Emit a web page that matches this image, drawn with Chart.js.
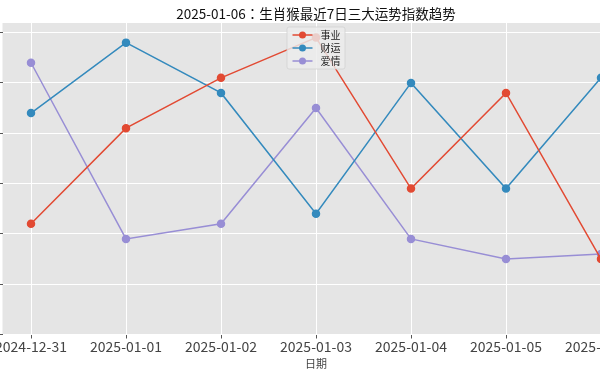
<!DOCTYPE html>
<html>
<head>
<meta charset="utf-8">
<script src="https://cdn.jsdelivr.net/npm/chart.js@4.4.1/dist/chart.umd.min.js"></script>
<style>
    body { margin: 0; overflow: hidden; background: #fff; width: 600px; height: 375px; position: relative; }
    #wrap { position: absolute; left: -40px; top: 0; width: 720px; height: 375px; }
</style>
</head>
<body>
<div id="wrap"><canvas id="trend_chart"></canvas></div>
<script>
// chart data
const dates = ['2024-12-31', '2025-01-01', '2025-01-02', '2025-01-03', '2025-01-04', '2025-01-05', '2025-01-06'];
const career = [62, 81, 91, 99, 69, 88, 55];   // 事业
const wealth = [84, 98, 88, 64, 90, 69, 91];   // 财运
const love = [94, 59, 62, 85, 59, 55, 56];     // 爱情
const yTicks = [40, 50, 60, 70, 80, 90, 100];

const FONT = "'Noto Sans CJK JP', 'Noto Sans CJK SC', sans-serif";

function toPoints(arr) {
    return arr.map((v, i) => ({ x: i, y: v }));
}

function makeSet(label, arr, color) {
    return {
        label: label,
        data: toPoints(arr),
        borderColor: color,
        backgroundColor: color,
        borderWidth: 1.5,
        pointRadius: 3.5,
        pointHoverRadius: 3.5,
        tension: 0
    };
}

// grey panel behind the plot
const panelBg = {
    id: 'panelBg',
    beforeDraw(chart) {
        const a = chart.chartArea;
        const ctx = chart.ctx;
        ctx.save();
        ctx.fillStyle = '#fff';
        ctx.fillRect(0, 0, chart.width, chart.height);
        ctx.fillStyle = '#E5E5E5';
        ctx.fillRect(a.left, a.top, a.right - a.left, a.bottom - a.top);
        ctx.restore();
    }
};

// legend box inside the plot, upper center
const innerLegend = {
    id: 'innerLegend',
    afterDraw(chart) {
        const ctx = chart.ctx;
        const x0 = 327, y0 = 27, w = 58, h = 42;
        ctx.save();
        ctx.fillStyle = 'rgba(236,236,236,0.82)';
        ctx.strokeStyle = 'rgba(210,210,210,0.8)';
        ctx.lineWidth = 1;
        ctx.beginPath();
        ctx.roundRect(x0, y0, w, h, 2);
        ctx.fill();
        ctx.stroke();
        ctx.font = '10px ' + FONT;
        ctx.textBaseline = 'middle';
        chart.data.datasets.forEach((ds, i) => {
            const y = y0 + 8 + i * 13;
            ctx.strokeStyle = ds.borderColor;
            ctx.lineWidth = 1.5;
            ctx.beginPath();
            ctx.moveTo(x0 + 5.5, y);
            ctx.lineTo(x0 + 25.5, y);
            ctx.stroke();
            ctx.fillStyle = ds.borderColor;
            ctx.beginPath();
            ctx.arc(x0 + 15.5, y, 3.5, 0, Math.PI * 2);
            ctx.fill();
            ctx.fillStyle = '#222';
            ctx.fillText(ds.label, x0 + 33.5, y + 0.5);
        });
        ctx.restore();
    }
};

let trend_chart = new Chart(document.getElementById('trend_chart'), {
    type: 'line',
    data: {
        datasets: [
            makeSet('事业', career, '#E24A33'),
            makeSet('财运', wealth, '#348ABD'),
            makeSet('爱情', love, '#988ED5')
        ]
    },
    options: {
        responsive: true,
        maintainAspectRatio: false,
        animation: false,
        events: [],
        layout: { padding: { left: 0, right: 50.5, top: 0, bottom: 0 } },
        plugins: {
            legend: { display: false },
            tooltip: { enabled: false },
            title: {
                display: true,
                fullSize: false,
                text: '2025-01-06：生肖猴最近7日三大运势指数趋势',
                color: '#111',
                font: { family: FONT, size: 13.5, weight: 'normal' },
                padding: { top: 5.9, bottom: 0.9 }
            }
        },
        scales: {
            x: {
                type: 'linear',
                min: -0.3,
                max: 6.3,
                afterBuildTicks: (scale) => { scale.ticks = dates.map((d, i) => ({ value: i })); },
                afterFit: (scale) => { scale.height = 40.5; },
                border: { display: false },
                grid: { color: '#fff', lineWidth: 1, tickColor: '#555', tickLength: 4 },
                ticks: {
                    autoSkip: false,
                    maxRotation: 0,
                    padding: 0,
                    color: '#444',
                    font: { family: FONT, size: 14 },
                    callback: (value) => dates[value]
                },
                title: {
                    display: true,
                    text: '日期',
                    color: '#444',
                    font: { family: FONT, size: 11 },
                    padding: { top: 0, bottom: 4.6 }
                }
            },
            y: {
                min: 40,
                max: 101.9,
                afterBuildTicks: (scale) => { scale.ticks = yTicks.map(v => ({ value: v })); },
                afterFit: (scale) => { scale.width = 42.5; },
                border: { display: false },
                grid: { color: '#fff', lineWidth: 1, tickColor: '#555', tickLength: 4 },
                ticks: { color: '#444', font: { family: FONT, size: 14 } }
            }
        }
    },
    plugins: [panelBg, innerLegend]
});
</script>
</body>
</html>
